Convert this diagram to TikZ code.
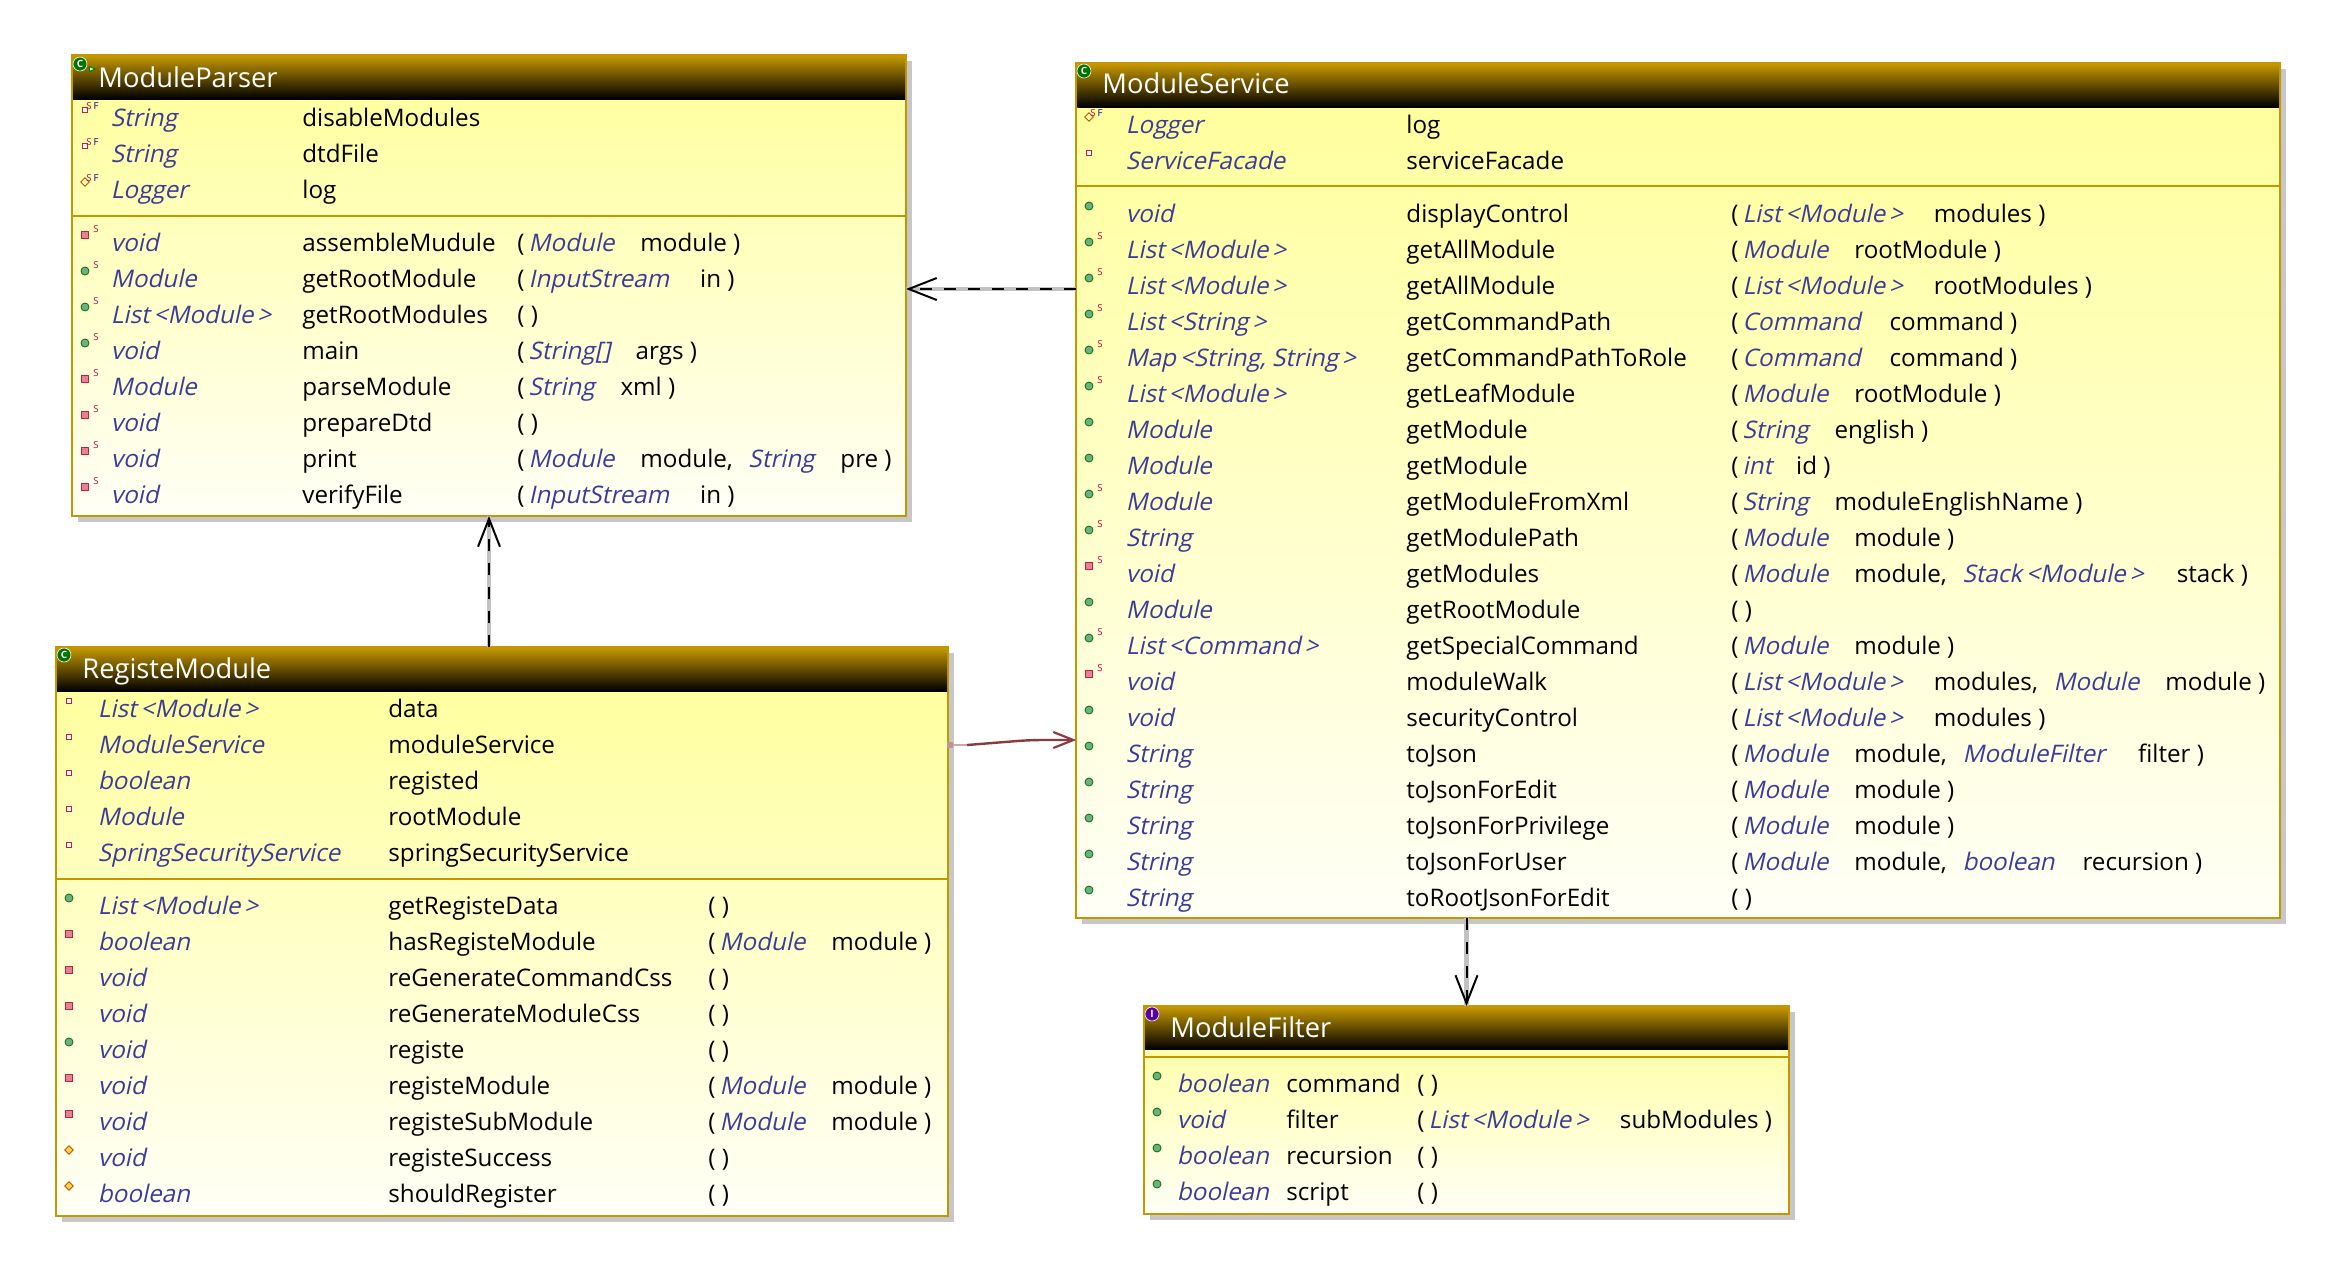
\documentclass[tikz,border=0pt]{standalone}
\usepackage{fontspec}
\setmainfont{Open Sans}
\newfontfamily\slantfont{Open Sans}[FakeSlant=.22]
\usepackage{xcolor}
\usetikzlibrary{arrows.meta,shadows,shapes.geometric}
\definecolor{umlgold}{HTML}{C49700}
\definecolor{umlbody}{HTML}{FFFF99}
\definecolor{umlpale}{HTML}{FFFFF6}
\definecolor{umltype}{HTML}{3B3B98}
\definecolor{umllink}{HTML}{8B3A42}
\definecolor{umlgreen}{HTML}{6FAF85}
\definecolor{umlred}{HTML}{C81E3C}
\definecolor{umlstar}{HTML}{C0004B}
\newcommand{\typ}[1]{{\slantfont\color{umltype}#1}}
\newcommand{\gen}[1]{\,<#1\,>}
\newcommand{\gp}[1][13pt]{\hspace*{#1}\ignorespaces}
\newcommand{\nx}{,\hspace*{7.8pt}}
% one line of a class box; \xi \xt \xn \xp are set per box
\newcommand{\fieldrow}[5]{%
  \node[#3] (#1i) at (\xi,#2-16) {};
  \node[cell] (#1t) at (\xt,#2) {\typ{#4}};
  \node[cell] (#1n) at (\xn,#2) {#5};}
\newcommand{\memrow}[6]{%
  \fieldrow{#1}{#2}{#3}{#4}{#5}
  \node[cell] (#1a) at (\xp,#2) {#6};}

\begin{document}
\begin{tikzpicture}[x=.5pt,y=-.5pt,
  cell/.style={anchor=base west,inner sep=0,font=\fontsize{12.1}{14}\selectfont},
  heading/.style={anchor=base west,inner sep=0,text=white,font=\fontsize{13.65}{16}\selectfont},
  classbox/.style={draw=umlgold,line width=1.1pt,outer sep=0,inner sep=0,
    top color=umlbody,bottom color=umlpale,
    drop shadow={shadow xshift=3pt,shadow yshift=-3pt,fill=black,opacity=.22}},
  titlebar/.style={anchor=north,inner sep=0,outer sep=0,top color=umlgold,bottom color=black},
  sep/.style={draw=umlgold,line width=1.1pt},
  stat/.style={inner sep=0,text=umlstar,font=\fontsize{4.8}{5}\selectfont},
  fin/.style={inner sep=0,text=blue!60!black,font=\fontsize{4.8}{5}\selectfont},
  pub/.style={circle,draw=green!45!black,fill=umlgreen,line width=.4pt,minimum size=4pt,inner sep=0},
  pri/.style={rectangle,draw=umlred,fill=umlred!55!white,line width=.5pt,minimum size=3.4pt,inner sep=0},
  fld/.style={rectangle,draw=umlred,fill=white,line width=.7pt,minimum size=2.5pt,inner sep=0},
  dft/.style={diamond,draw=orange!70!black,fill=orange!50!yellow!70!white,line width=.4pt,minimum size=4.4pt,inner sep=0},
  holw/.style={diamond,draw=orange!70!black,line width=.4pt,minimum size=4.4pt,inner sep=0},
  pubS/.style={pub,label={[stat,xshift=5.5pt,yshift=3pt]center:S}},
  priS/.style={pri,label={[stat,xshift=5.5pt,yshift=3pt]center:S}},
  fldSF/.style={fld,label={[stat,xshift=2pt,yshift=2.2pt]center:S},label={[fin,xshift=5.5pt,yshift=2.2pt]center:F}},
  holwSF/.style={holw,label={[stat,xshift=2pt,yshift=2.2pt]center:S},label={[fin,xshift=5.5pt,yshift=2.2pt]center:F}},
  kind/.style={circle,draw=white,line width=.3pt,minimum size=7pt,inner sep=0,text=white,
    font=\bfseries\fontsize{5}{5}\selectfont},
  dep/.style={draw=black,line width=1pt,dash pattern=on 6pt off 6pt,
    -{Straight Barb[length=14pt,width=11pt,line width=1pt]},
    preaction={draw=black!24,solid,line width=2.4pt,-}},
  use/.style={draw=umllink,line width=1.2pt,-{Straight Barb[length=10pt,width=8pt,line width=1.1pt]},rounded corners=6pt}]
  \useasboundingbox (0,0) rectangle (2334,1271);

  % ---- boxes
  \node[classbox,minimum width=417pt,minimum height=230.5pt] (parser) at (489,285.5) {};
  \node[classbox,minimum width=601.75pt,minimum height=427.5pt] (service) at (1678,490.5) {};
  \node[classbox,minimum width=446pt,minimum height=284.5pt] (registe) at (502,931.5) {};
  \node[classbox,minimum width=322.5pt,minimum height=104pt] (filter) at (1466.5,1110) {};

  \node[titlebar,minimum width=416pt,minimum height=21.5pt] (parserbar) at ([yshift=-.5pt]parser.north) {};
  \node[titlebar,minimum width=600.75pt,minimum height=21.5pt] (servicebar) at ([yshift=-.5pt]service.north) {};
  \node[titlebar,minimum width=445pt,minimum height=21.5pt] (registebar) at ([yshift=-.5pt]registe.north) {};
  \node[titlebar,minimum width=321.5pt,minimum height=21pt] (filterbar) at ([yshift=-.5pt]filter.north) {};

  \node[heading] (parsername) at (98,87) {ModuleParser};
  \node[heading] (servicename) at (1102,93) {ModuleService};
  \node[heading] (registename) at (82,678) {RegisteModule};
  \node[heading] (filtername) at (1170,1037) {ModuleFilter};

  \node[kind,fill=green!45!black] (parserkind) at (80,64) {C};
  \node[isosceles triangle,draw=green!50!black,fill=white,line width=.5pt,minimum size=2.5pt,inner sep=0] (parsermark) at (91,69) {};
  \node[kind,fill=green!45!black] (servicekind) at (1084,71) {C};
  \node[kind,fill=green!45!black] (registekind) at (64,655) {C};
  \node[kind,fill=violet!70!blue] (filterkind) at (1152,1014) {I};

  \draw[sep] (parser.west |- 0,216) -- (parser.east |- 0,216);
  \draw[sep] (service.west |- 0,186) -- (service.east |- 0,186);
  \draw[sep] (registe.west |- 0,879) -- (registe.east |- 0,879);
  \draw[sep] (filter.west |- 0,1057) -- (filter.east |- 0,1057);

  % ---- ModuleParser
  \def\xi{85}\def\xt{110.5}\def\xn{302}\def\xp{517}
  \foreach \ic/\ty/\nm [count=\i, evaluate=\i as \y using 90+36*\i] in {
    fldSF/String/disableModules, fldSF/String/dtdFile, holwSF/Logger/log}
    {\fieldrow{pf\i}{\y}{\ic}{\ty}{\nm}}
  \foreach \ic/\ty/\nm/\ar [count=\i, evaluate=\i as \y using 215+36*\i] in {
    priS/void/assembleMudule/{(\,\typ{Module}\gp module )},
    pubS/Module/getRootModule/{(\,\typ{InputStream}\gp[15.5pt] in )},
    pubS/List\gen{Module}/getRootModules/{( )},
    pubS/void/main/{(\,\typ{String[]}\gp[12.6pt] args )},
    priS/Module/parseModule/{(\,\typ{String}\gp xml )},
    priS/void/prepareDtd/{( )},
    priS/void/print/{(\,\typ{Module}\gp module\nx\typ{String}\gp pre )},
    priS/void/verifyFile/{(\,\typ{InputStream}\gp[15.5pt] in )}}
    {\memrow{pm\i}{\y}{\ic}{\ty}{\nm}{\ar}}

  % ---- ModuleService
  \def\xi{1089}\def\xt{1125.5}\def\xn{1406}\def\xp{1731}
  \foreach \ic/\ty/\nm [count=\i, evaluate=\i as \y using 97+36*\i] in {
    holwSF/Logger/log, fld/ServiceFacade/serviceFacade}
    {\fieldrow{sf\i}{\y}{\ic}{\ty}{\nm}}
  \foreach \ic/\ty/\nm/\ar [count=\i, evaluate=\i as \y using 186+36*\i] in {
    pub/void/displayControl/{(\,\typ{List\gen{Module}}\gp[15.5pt] modules )},
    pubS/List\gen{Module}/getAllModule/{(\,\typ{Module}\gp rootModule )},
    pubS/List\gen{Module}/getAllModule/{(\,\typ{List\gen{Module}}\gp[15.5pt] rootModules )},
    pubS/List\gen{String}/getCommandPath/{(\,\typ{Command}\gp[14.5pt] command )},
    pubS/Map\gen{String, String}/getCommandPathToRole/{(\,\typ{Command}\gp[14.5pt] command )},
    pubS/List\gen{Module}/getLeafModule/{(\,\typ{Module}\gp rootModule )},
    pub/Module/getModule/{(\,\typ{String}\gp english )},
    pub/Module/getModule/{(\,\typ{int}\gp[12pt] id )},
    pubS/Module/getModuleFromXml/{(\,\typ{String}\gp moduleEnglishName )},
    pubS/String/getModulePath/{(\,\typ{Module}\gp module )},
    priS/void/getModules/{(\,\typ{Module}\gp module\nx\typ{Stack\gen{Module}}\gp[16.6pt] stack )},
    pub/Module/getRootModule/{( )},
    pubS/List\gen{Command}/getSpecialCommand/{(\,\typ{Module}\gp module )},
    priS/void/moduleWalk/{(\,\typ{List\gen{Module}}\gp[15.5pt] modules\nx\typ{Module}\gp module )},
    pub/void/securityControl/{(\,\typ{List\gen{Module}}\gp[15.5pt] modules )},
    pub/String/toJson/{(\,\typ{Module}\gp module\nx\typ{ModuleFilter}\gp[16.5pt] filter )},
    pub/String/toJsonForEdit/{(\,\typ{Module}\gp module )},
    pub/String/toJsonForPrivilege/{(\,\typ{Module}\gp module )},
    pub/String/toJsonForUser/{(\,\typ{Module}\gp module\nx\typ{boolean}\gp[14pt] recursion )},
    pub/String/toRootJsonForEdit/{( )}}
    {\memrow{sm\i}{\y}{\ic}{\ty}{\nm}{\ar}}

  % ---- RegisteModule
  \def\xi{69}\def\xt{97.5}\def\xn{388}\def\xp{708}
  \foreach \ic/\ty/\nm [count=\i, evaluate=\i as \y using 681+36*\i] in {
    fld/List\gen{Module}/data, fld/ModuleService/moduleService, fld/boolean/registed,
    fld/Module/rootModule, fld/SpringSecurityService/springSecurityService}
    {\fieldrow{rf\i}{\y}{\ic}{\ty}{\nm}}
  \foreach \ic/\ty/\nm/\ar [count=\i, evaluate=\i as \y using 878+36*\i] in {
    pub/List\gen{Module}/getRegisteData/{( )},
    pri/boolean/hasRegisteModule/{(\,\typ{Module}\gp module )},
    pri/void/reGenerateCommandCss/{( )},
    pri/void/reGenerateModuleCss/{( )},
    pub/void/registe/{( )},
    pri/void/registeModule/{(\,\typ{Module}\gp module )},
    pri/void/registeSubModule/{(\,\typ{Module}\gp module )},
    dft/void/registeSuccess/{( )},
    dft/boolean/shouldRegister/{( )}}
    {\memrow{rm\i}{\y}{\ic}{\ty}{\nm}{\ar}}

  % ---- ModuleFilter
  \def\xi{1157}\def\xt{1176.5}\def\xn{1286}\def\xp{1417}
  \foreach \ic/\ty/\nm/\ar [count=\i, evaluate=\i as \y using 1056+36*\i] in {
    pub/boolean/command/{( )},
    pub/void/filter/{(\,\typ{List\gen{Module}}\gp[15.5pt] subModules )},
    pub/boolean/recursion/{( )},
    pub/boolean/script/{( )}}
    {\memrow{fm\i}{\y}{\ic}{\ty}{\nm}{\ar}}

  % ---- links
  \draw[dep] (service.west |- 0,289) -- (parser.east |- 0,289);
  \draw[dep] (parser.south |- registe.north) -- (parser.south);
  \draw[dep] (filter.north |- service.south) -- (filter.north);
  \node[rectangle,fill=umllink!55!white,minimum size=3pt,inner sep=0] (owner) at (950,745) {};
  \draw[draw=umllink!45!white,line width=1pt] (owner) -- (968,745);
  \draw[use] (967,745) -- (1030,740) -- (service.west |- 0,740);
\end{tikzpicture}
\end{document}
